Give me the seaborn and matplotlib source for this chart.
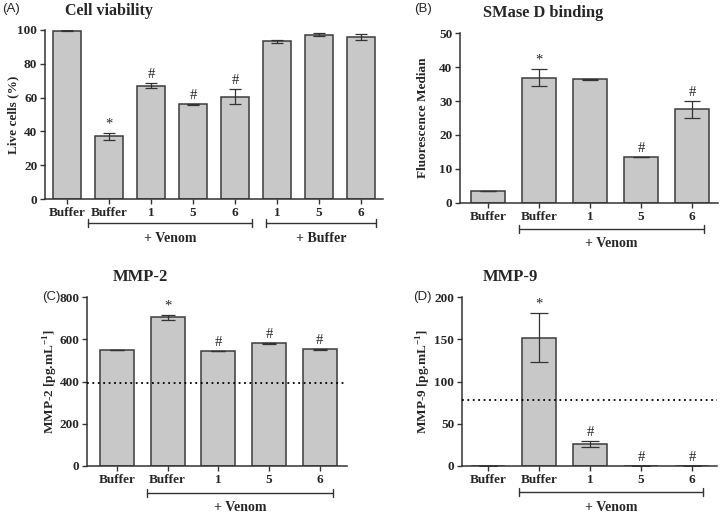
import numpy as np
import pandas as pd
import matplotlib
matplotlib.use("Agg")
import matplotlib.pyplot as plt
import seaborn as sns

# ---- data ----
a_labels = ['Buffer', 'Buffer', '1', '5', '6', '1', '5', '6']
a_vals = [99.5, 37.0, 67.0, 56.0, 60.5, 93.2, 97.3, 96.0]
a_err = [0.3, 2.0, 1.5, 0.4, 4.4, 1.0, 0.8, 1.8]
a_marks = ['', '*', '#', '#', '#', '', '', '']

b_labels = ['Buffer', 'Buffer', '1', '5', '6']
b_vals = [3.4, 36.9, 36.4, 13.4, 27.5]
b_err = [0.0, 2.6, 0.2, 0.0, 2.5]
b_marks = ['', '*', '', '#', '#']

c_labels = ['Buffer', 'Buffer', '1', '5', '6']
c_vals = [550, 705, 543, 580, 553]
c_err = [0, 12, 0, 2, 2]
c_marks = ['', '*', '#', '#', '#']
c_baseline = 393

d_labels = ['Buffer', 'Buffer', '1', '5', '6']
d_vals = [0, 152, 26, 0, 0]
d_err = [0, 29.5, 3, 0, 0]
d_marks = ['', '*', '#', '#', '#']
d_baseline = 78

sns.set_style("ticks")
plt.rcParams['font.family'] = ['Liberation Serif', 'DejaVu Serif']
plt.rcParams['font.weight'] = 'bold'
plt.rcParams['axes.labelweight'] = 'bold'
plt.rcParams['mathtext.fontset'] = 'custom'
plt.rcParams['mathtext.rm'] = 'Liberation Serif:bold'
plt.rcParams['mathtext.bf'] = 'Liberation Serif:bold'

BAR = '#c8c8c8'
EDGE = '#3c3c3c'
DARK = '#333333'


def draw(ax, labels, vals, errs, marks, xlim, ylim, yticks, ylabel, capsize, labelx):
    df = pd.DataFrame({'key': [str(i) for i in range(len(vals))], 'value': vals})
    sns.barplot(data=df, x='key', y='value', order=df['key'], color=BAR,
                edgecolor=EDGE, linewidth=1.1, width=0.67, errorbar=None,
                saturation=1, ax=ax)
    x = np.arange(len(vals))
    ax.errorbar(x, vals, yerr=errs, fmt='none', ecolor=DARK, elinewidth=0.9,
                capsize=capsize, capthick=0.9, zorder=3)
    for xi, v, e, m in zip(x, vals, errs, marks):
        if m:
            ax.annotate(m, (xi, v + e), xytext=(0, 1.5), textcoords='offset points',
                        ha='center', va='bottom', fontsize=10.5, fontweight='normal')
    ax.set_xlim(*xlim)
    ax.set_ylim(*ylim)
    ax.set_yticks(yticks)
    ax.set_xticks(x)
    ax.set_xticklabels(labels)
    ax.set_xlabel('')
    ax.set_ylabel(ylabel, fontsize=9.5)
    ax.yaxis.set_label_coords(labelx, 0.5)
    ax.tick_params(axis='both', labelsize=9.5, length=3.5, width=1, color=DARK, pad=2)
    for lab in ax.get_xticklabels() + ax.get_yticklabels():
        lab.set_fontweight('bold')
    sns.despine(ax=ax)
    for s in ('left', 'bottom'):
        ax.spines[s].set_color(DARK)
        ax.spines[s].set_linewidth(1.1)


def bracket(ax, x0, x1, text, ybar, ytext):
    tr = ax.get_xaxis_transform()
    ax.plot([x0, x1], [ybar, ybar], color=DARK, lw=1, transform=tr, clip_on=False)
    ax.plot([x0, x0], [ybar - 0.025, ybar + 0.025], color=DARK, lw=1, transform=tr, clip_on=False)
    ax.plot([x1, x1], [ybar - 0.025, ybar + 0.025], color=DARK, lw=1, transform=tr, clip_on=False)
    ax.text((x0 + x1) / 2, ytext, text, transform=tr, ha='center', va='center',
            fontsize=10, fontweight='bold')


fig = plt.figure(figsize=(7.2, 5.14), dpi=100)
W, H = 720, 514


def add_axes(left, right, top, bottom):
    return fig.add_axes([left / W, 1 - bottom / H, (right - left) / W, (bottom - top) / H])


axA = add_axes(45, 383, 30, 199)
axB = add_axes(460, 718, 33, 203)
axC = add_axes(87, 347, 297, 466)
axD = add_axes(462, 717, 297, 466)

draw(axA, a_labels, a_vals, a_err, a_marks, (-0.52, 7.52), (0, 100),
     [0, 20, 40, 60, 80, 100], 'Live cells (%)', 4.5, -0.077)
draw(axB, b_labels, b_vals, b_err, b_marks, (-0.55, 4.51), (0, 50),
     [0, 10, 20, 30, 40, 50], 'Fluorescence Median', 6, -0.12)
draw(axC, c_labels, c_vals, c_err, c_marks, (-0.59, 4.54), (0, 800),
     [0, 200, 400, 600, 800], 'MMP-2 [pg.mL$^{-1}$]', 5, -0.102)
draw(axD, d_labels, d_vals, d_err, d_marks, (-0.51, 4.49), (0, 200),
     [0, 50, 100, 150, 200], 'MMP-9 [pg.mL$^{-1}$]', 6.5, -0.112)

axC.axhline(c_baseline, color='black', ls=(0, (1, 2)), lw=1.3, zorder=4)
axD.axhline(d_baseline, color='black', ls=(0, (1, 2)), lw=1.3, zorder=4)

bracket(axA, 0.5, 4.4, '+ Venom', -0.142, -0.232)
bracket(axA, 4.74, 7.36, '+ Buffer', -0.142, -0.232)
bracket(axB, 0.61, 4.24, '+ Venom', -0.153, -0.241)
bracket(axC, 0.59, 4.26, '+ Venom', -0.16, -0.243)
bracket(axD, 0.61, 4.22, '+ Venom', -0.154, -0.243)

# titles and panel letters
fig.text(109 / W, 1 - 11 / H, 'Cell viability', ha='center', va='center',
         fontsize=11.5, fontweight='bold')
fig.text(543 / W, 1 - 13 / H, 'SMase D binding', ha='center', va='center',
         fontsize=11.8, fontweight='bold')
fig.text(140 / W, 1 - 277 / H, 'MMP-2', ha='center', va='center',
         fontsize=12, fontweight='bold')
fig.text(510 / W, 1 - 277 / H, 'MMP-9', ha='center', va='center',
         fontsize=12, fontweight='bold')

for txt, x, y in [('(A)', 2, 9), ('(B)', 414, 9), ('(C)', 42, 297), ('(D)', 413, 297)]:
    fig.text(x / W, 1 - y / H, txt, ha='left', va='center', fontsize=9.5,
             fontweight='normal', family=['Liberation Sans', 'DejaVu Sans'])

fig.savefig('out.png', dpi=100)
